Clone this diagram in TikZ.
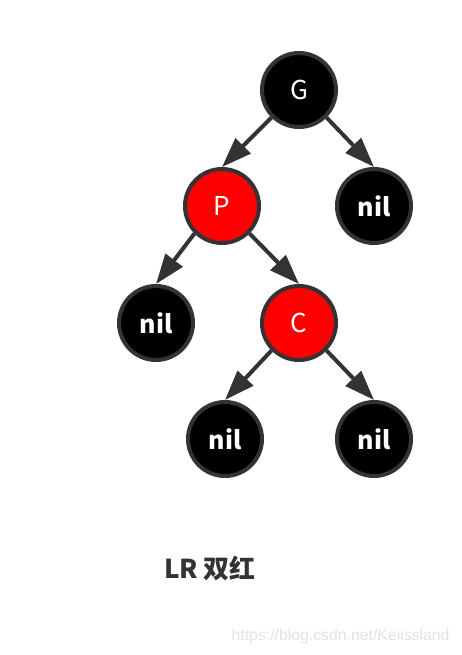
\documentclass[tikz,border=0pt]{standalone}
\usepackage{fontspec}
\setmainfont{Noto Sans CJK SC}
\newfontfamily\markfont{Liberation Sans}
\usetikzlibrary{arrows.meta}
\definecolor{edgegray}{HTML}{333333}
\definecolor{rbred}{HTML}{FF0000}
\definecolor{markgray}{HTML}{E2E2E2}

\begin{document}
\begin{tikzpicture}[x=1pt, y=-1pt, >={Triangle[length=30pt,width=21pt]},
    rbnode/.style={circle, draw=edgegray, line width=4pt, minimum size=74pt, inner sep=0pt, text=white, font=\fontsize{26}{30}\selectfont},
    blacknode/.style={rbnode, fill=black},
    rednode/.style={rbnode, fill=rbred},
    nilnode/.style={blacknode, font=\fontsize{25}{30}\selectfont\bfseries},
    link/.style={->, draw=edgegray, line width=4pt}]
    \useasboundingbox (0, 0) rectangle (462, 655);
    \node[blacknode] (g) at (299, 90) {G};
    \node[rednode] (p) at (222, 206) {P};
    \node[nilnode] (gnil) at (374, 206) {nil};
    \node[nilnode] (pnil) at (156, 323) {nil};
    \node[rednode] (c) at (299, 323) {C};
    \node[nilnode] (cnila) at (225, 439) {nil};
    \node[nilnode] (cnilb) at (374, 439) {nil};
    \draw[link] (g.south west) -- (p.north);
    \draw[link] (g.south east) -- (gnil.north);
    \draw[link] (p.south west) -- (pnil.north);
    \draw[link] (p.south east) -- (c.north);
    \draw[link] (c.south west) -- (cnila.north);
    \draw[link] (c.south east) -- (cnilb.north);
    \node[text=edgegray, font=\fontsize{26}{30}\selectfont\bfseries] (caption) at (210, 569) {LR 双红};
    % 水印
    \node[text=markgray, font=\markfont\fontsize{15.8}{18}\selectfont, anchor=east] (mark) at (453, 636) {https://blog.csdn.net/Keiissland};
\end{tikzpicture}
\end{document}
